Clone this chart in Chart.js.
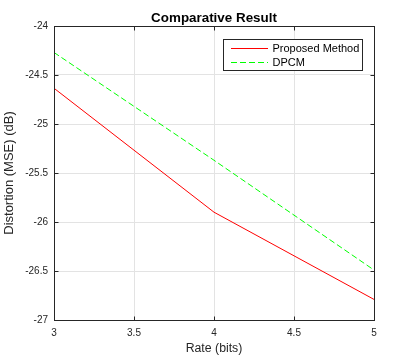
<!DOCTYPE html>
<html><head><meta charset="utf-8">
<script src="https://cdn.jsdelivr.net/npm/chart.js@4/dist/chart.umd.min.js"></script>
<style>html,body{margin:0;padding:0;background:#fff}#wrap{width:415px;height:360px}</style>
</head><body><div id="wrap"><canvas id="c" width="415" height="360"></canvas></div>
<script>
const rates = [3, 4, 5];
const proposed = [-24.635, -25.90, -26.79];
const dpcm = [-24.27, -25.37, -26.49];
const xTicks = [3, 3.5, 4, 4.5, 5];
const yTicks = [-27, -26.5, -26, -25.5, -25, -24.5, -24];
const titleText = 'Comparative Result';
const xTitle = 'Rate (bits)';
const yTitle = 'Distortion (MSE) (dB)';
const seriesNames = ['Proposed Method', 'DPCM'];

const FONT = "'Liberation Sans', Arial, Helvetica, sans-serif";
Chart.defaults.font.family = FONT;
const AX = '#262626';

const frame = {
  id: 'frame',
  afterDraw(chart) {
    const ctx = chart.ctx, a = chart.chartArea;
    const L = Math.round(a.left) + 0.5, R = Math.round(a.right) + 0.5;
    const T = Math.round(a.top) + 0.5, B = Math.round(a.bottom) + 0.5;
    ctx.save();
    ctx.strokeStyle = AX; ctx.lineWidth = 1;
    ctx.strokeRect(L, T, R - L, B - T);
    const tl = 4;
    const xs = chart.scales.x, ys = chart.scales.y;
    ctx.beginPath();
    xs.ticks.forEach(t => {
      const px = Math.round(xs.getPixelForValue(t.value)) + 0.5;
      ctx.moveTo(px, B); ctx.lineTo(px, B - tl);
      ctx.moveTo(px, T); ctx.lineTo(px, T + tl);
    });
    ys.ticks.forEach(t => {
      const py = Math.round(ys.getPixelForValue(t.value)) + 0.5;
      ctx.moveTo(L, py); ctx.lineTo(L + tl, py);
      ctx.moveTo(R, py); ctx.lineTo(R - tl, py);
    });
    ctx.stroke();
    // title
    ctx.fillStyle = '#000';
    ctx.font = 'bold 13.4px ' + FONT;
    ctx.textAlign = 'center'; ctx.textBaseline = 'alphabetic';
    ctx.fillText(titleText, (a.left + a.right) / 2, 22);
    // legend
    const bx = 223.5, by = 39.5, bw = 139, bh = 31;
    ctx.fillStyle = '#fff';
    ctx.fillRect(bx, by, bw, bh);
    ctx.strokeStyle = AX;
    ctx.strokeRect(bx, by, bw, bh);
    ctx.font = '11px ' + FONT;
    ctx.textAlign = 'left'; ctx.textBaseline = 'middle';
    const rows = [48.5, 62.5];
    chart.data.datasets.forEach((ds, i) => {
      ctx.strokeStyle = ds.borderColor;
      ctx.lineWidth = 1;
      ctx.setLineDash(ds.borderDash || []);
      ctx.beginPath();
      ctx.moveTo(231, rows[i]); ctx.lineTo(268, rows[i]);
      ctx.stroke();
      ctx.setLineDash([]);
      ctx.fillStyle = '#000';
      ctx.fillText(ds.label, 272.5, rows[i] + 0.5);
    });
    ctx.restore();
  }
};

new Chart(document.getElementById('c'), {
  type: 'line',
  data: {
    datasets: [
      { label: seriesNames[0], data: rates.map((x, i) => ({x, y: proposed[i]})),
        borderColor: 'rgb(255,0,0)', borderWidth: 1, pointRadius: 0, tension: 0, fill: false },
      { label: seriesNames[1], data: rates.map((x, i) => ({x, y: dpcm[i]})),
        borderColor: 'rgb(0,255,0)', borderWidth: 1, borderDash: [6, 3], pointRadius: 0, tension: 0, fill: false }
    ]
  },
  options: {
    responsive: false, animation: false, devicePixelRatio: 1,
    layout: { padding: { top: 26, right: 41, left: 0, bottom: 0 } },
    plugins: { legend: { display: false }, tooltip: { enabled: false }, title: { display: false } },
    scales: {
      x: {
        type: 'linear', min: 3, max: 5,
        afterBuildTicks: s => { s.ticks = xTicks.map(v => ({ value: v })); },
        afterFit: s => { s.height = 40; },
        grid: { color: '#e3e3e3', drawTicks: false },
        border: { display: true, color: AX },
        ticks: { color: AX, font: { size: 10 }, padding: 7, maxRotation: 0, callback: v => String(v) },
        title: { display: true, text: xTitle, color: AX, font: { size: 12.3 }, padding: { top: 0, bottom: 4 } }
      },
      y: {
        type: 'linear', min: -27, max: -24,
        afterBuildTicks: s => { s.ticks = yTicks.map(v => ({ value: v })); },
        afterFit: s => { s.width = 54; },
        grid: { color: '#e3e3e3', drawTicks: false },
        border: { display: true, color: AX },
        ticks: { color: AX, font: { size: 10 }, padding: 6, callback: v => String(v) },
        title: { display: true, text: yTitle, color: AX, font: { size: 13 }, padding: { top: 2, bottom: 0 } }
      }
    }
  },
  plugins: [frame]
});
</script>
</body></html>
